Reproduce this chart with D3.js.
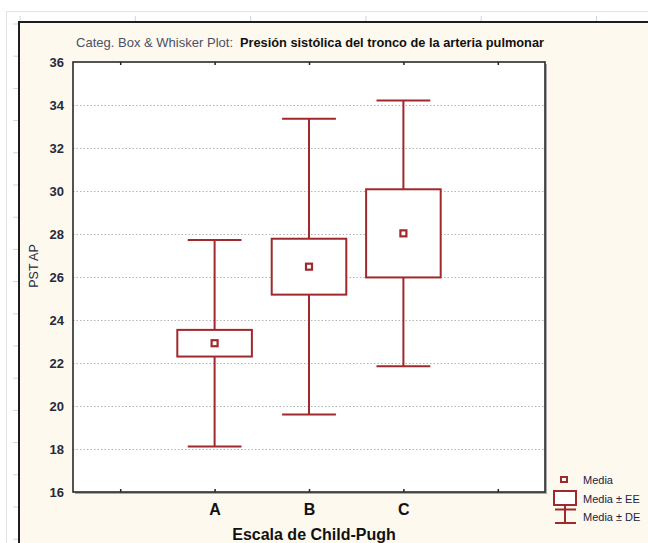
<!DOCTYPE html>
<html>
<head>
<meta charset="utf-8">
<script src="https://cdn.jsdelivr.net/npm/d3@7/dist/d3.min.js"></script>
<style>
  html, body { margin: 0; padding: 0; background: #ffffff; }
  svg { display: block; }
</style>
</head>
<body>
<svg id="chart" width="648" height="543"></svg>
<script>
// Categorical box & whisker data: mean, ± standard error (box), ± standard deviation (whiskers)
const categories = ["A", "B", "C"];
const means = [22.92, 26.48, 28.03];
const stdErr = [0.62, 1.30, 2.05];
const stdDev = [4.80, 6.88, 6.18];
const yTicks = [16, 18, 20, 22, 24, 26, 28, 30, 32, 34, 36];
const legendLabels = ["Media", "Media \u00b1 EE", "Media \u00b1 DE"];

const W = 648, H = 543;
const plot = { left: 73, right: 545, top: 62, bottom: 492 };
const RED = "#a0292e";

const svg = d3.select("#chart");

// Window frame with faint ruler marks
svg.append("rect").attr("x", 6.5).attr("y", 11.5).attr("width", W).attr("height", H)
  .attr("fill", "#ffffff").attr("stroke", "#e2e2e2");
svg.append("rect").attr("x", 19).attr("y", 22).attr("width", W).attr("height", H)
  .attr("fill", "#fef9ee").attr("stroke", "#1e1e1e").attr("stroke-width", 2);
const rulerY = d3.range(24, 540, 32.2);
svg.append("g").selectAll("line").data(rulerY).join("line")
  .attr("x1", 13).attr("x2", 18).attr("y1", d => d).attr("y2", d => d)
  .attr("stroke", "#cfd5e2").attr("stroke-width", 1);
const rulerX = d3.range(20, 640, 115.3);
svg.append("g").selectAll("line").data(rulerX).join("line")
  .attr("x1", d => d).attr("x2", d => d).attr("y1", 16).attr("y2", 21)
  .attr("stroke", "#cfd5e2").attr("stroke-width", 1);

// Scales: five category slots, data in the middle three
const x = d3.scaleLinear().domain([-1.5, 3.5]).range([plot.left, plot.right]);
const y = d3.scaleLinear().domain([16, 36]).range([plot.bottom, plot.top]);
const slot = x(1) - x(0);

// Plot area with drop shadow
svg.append("rect").attr("x", plot.left + 2).attr("y", plot.top + 2)
  .attr("width", plot.right - plot.left).attr("height", plot.bottom - plot.top)
  .attr("fill", "#a8a8a8");
svg.append("rect").attr("x", plot.left).attr("y", plot.top)
  .attr("width", plot.right - plot.left).attr("height", plot.bottom - plot.top)
  .attr("fill", "#ffffff");

// Dotted horizontal gridlines
svg.append("g")
  .attr("transform", `translate(${plot.left},0)`)
  .call(d3.axisLeft(y).tickValues(yTicks.slice(1, -1)).tickSize(-(plot.right - plot.left)).tickFormat(""))
  .call(g => g.select(".domain").remove())
  .call(g => g.selectAll(".tick line").attr("stroke", "#b4b4b4").attr("stroke-dasharray", "1.5,2"));

// Y axis labels
svg.append("g")
  .attr("transform", `translate(${plot.left},0)`)
  .call(d3.axisLeft(y).tickValues(yTicks).tickSize(0).tickPadding(9))
  .call(g => g.select(".domain").remove())
  .call(g => g.selectAll("text")
    .attr("font-family", "'Liberation Sans Narrow', 'Arial Narrow', 'Liberation Sans', sans-serif")
    .attr("font-weight", "bold").attr("font-size", 13).attr("fill", "#262a3c"));

// Small inward ticks on top and bottom edges
const slotTicks = [-1, 0, 1, 2, 3];
svg.append("g")
  .attr("transform", `translate(0,${plot.bottom})`)
  .call(d3.axisTop(x).tickValues(slotTicks).tickSize(3).tickFormat(""))
  .call(g => g.select(".domain").remove())
  .call(g => g.selectAll(".tick line").attr("stroke", "#222").attr("stroke-width", 1.5));
svg.append("g")
  .attr("transform", `translate(0,${plot.top})`)
  .call(d3.axisBottom(x).tickValues(slotTicks).tickSize(3).tickFormat(""))
  .call(g => g.select(".domain").remove())
  .call(g => g.selectAll(".tick line").attr("stroke", "#222").attr("stroke-width", 1.5));

// Plot border
svg.append("rect").attr("x", plot.left).attr("y", plot.top)
  .attr("width", plot.right - plot.left).attr("height", plot.bottom - plot.top)
  .attr("fill", "none").attr("stroke", "#2a2a2a").attr("stroke-width", 1.6);

// Boxes and whiskers
const boxW = slot * 0.79, capW = slot * 0.57, mk = 6;
const items = categories.map((c, i) => ({ c, i, m: means[i], se: stdErr[i], sd: stdDev[i] }));
const g = svg.append("g").attr("stroke", RED).attr("fill", "none").attr("stroke-width", 2);

items.forEach(d => {
  const cx = x(d.i);
  // whisker stems
  g.append("line").attr("x1", cx).attr("x2", cx).attr("y1", y(d.m + d.sd)).attr("y2", y(d.m + d.se));
  g.append("line").attr("x1", cx).attr("x2", cx).attr("y1", y(d.m - d.se)).attr("y2", y(d.m - d.sd));
  // caps
  [d.m + d.sd, d.m - d.sd].forEach(v => {
    g.append("line").attr("x1", cx - capW / 2).attr("x2", cx + capW / 2).attr("y1", y(v)).attr("y2", y(v));
  });
  // box
  g.append("rect").attr("x", cx - boxW / 2).attr("y", y(d.m + d.se))
    .attr("width", boxW).attr("height", y(d.m - d.se) - y(d.m + d.se)).attr("fill", "#ffffff");
  // mean marker
  g.append("rect").attr("x", cx - mk / 2).attr("y", y(d.m) - mk / 2)
    .attr("width", mk).attr("height", mk).attr("fill", "#ffffff").attr("stroke-width", 2.2);
});

// Category labels
svg.append("g")
  .attr("transform", `translate(0,${plot.bottom})`)
  .call(d3.axisBottom(x).tickValues(categories.map((c, i) => i)).tickSize(0).tickPadding(12)
    .tickFormat(i => categories[i]))
  .call(g => g.select(".domain").remove())
  .call(g => g.selectAll("text")
    .attr("font-family", "'Liberation Sans', Arial, sans-serif")
    .attr("font-weight", "bold").attr("font-size", 16).attr("fill", "#111"));

// Axis titles
svg.append("text").attr("x", 314).attr("y", 540).attr("text-anchor", "middle")
  .attr("font-family", "'Liberation Sans', Arial, sans-serif")
  .attr("font-weight", "bold").attr("font-size", 16).attr("fill", "#111")
  .text("Escala de Child-Pugh");

svg.append("text").attr("transform", "translate(38,266) rotate(-90)").attr("text-anchor", "middle")
  .attr("font-family", "'Liberation Sans', Arial, sans-serif")
  .attr("font-size", 12.5).attr("fill", "#262a3c")
  .text("PST AP");

// Chart title
svg.append("text").attr("x", 76).attr("y", 47)
  .attr("font-family", "'Liberation Sans Narrow', 'Arial Narrow', 'Liberation Sans', sans-serif")
  .attr("font-size", 13).attr("fill", "#4a5068")
  .attr("textLength", 157).attr("lengthAdjust", "spacingAndGlyphs")
  .text("Categ. Box & Whisker Plot:");
svg.append("text").attr("x", 240).attr("y", 47)
  .attr("font-family", "'Liberation Sans', Arial, sans-serif")
  .attr("font-weight", "bold").attr("font-size", 12).attr("fill", "#111")
  .attr("textLength", 304).attr("lengthAdjust", "spacingAndGlyphs")
  .text("Presi\u00f3n sist\u00f3lica del tronco de la arteria pulmonar");

// Legend
const lg = svg.append("g").attr("stroke", RED).attr("fill", "none").attr("stroke-width", 2);
lg.append("rect").attr("x", 561).attr("y", 477).attr("width", 6).attr("height", 5).attr("fill", "#fff");
lg.append("rect").attr("x", 554).attr("y", 491).attr("width", 22).attr("height", 14).attr("fill", "#fff");
lg.append("line").attr("x1", 565).attr("x2", 565).attr("y1", 505).attr("y2", 523);
lg.append("line").attr("x1", 555).attr("x2", 576).attr("y1", 509.5).attr("y2", 509.5);
lg.append("line").attr("x1", 555).attr("x2", 576).attr("y1", 523).attr("y2", 523);

svg.append("g").selectAll("text").data(legendLabels).join("text")
  .attr("x", 583).attr("y", (d, i) => [484, 503, 521][i])
  .attr("font-family", "'Liberation Sans', Arial, sans-serif")
  .attr("font-size", 11).attr("fill", "#1c2240")
  .text(d => d);
</script>
</body>
</html>
